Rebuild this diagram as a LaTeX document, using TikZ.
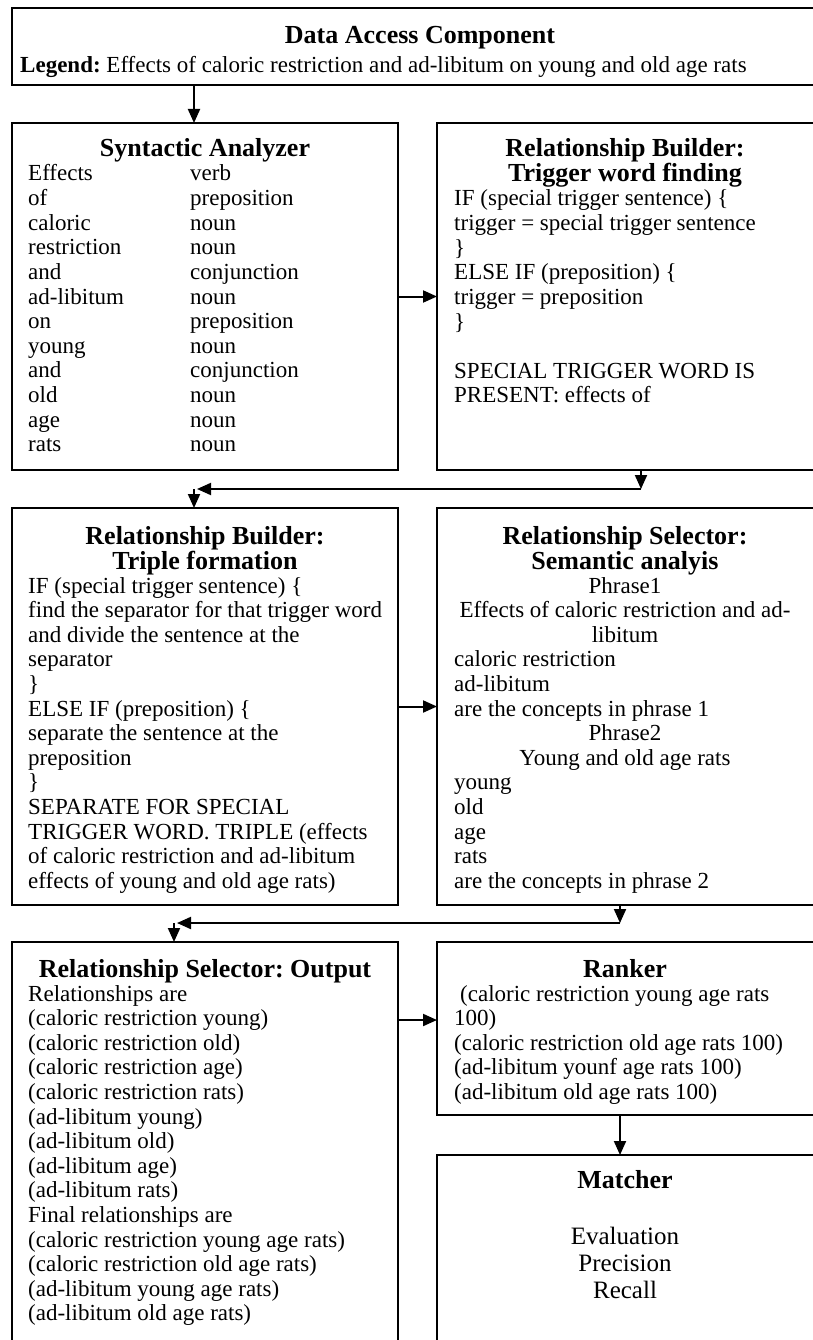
\documentclass[tikz,border=0pt]{standalone}
\usepackage{fontspec}
\setmainfont{Liberation Serif}
\usetikzlibrary{arrows.meta}
\frenchspacing
\begin{document}
\begin{tikzpicture}[x=1pt,y=-1pt,
  box/.style={draw=black, line width=2pt, anchor=north west, inner sep=0pt, outer sep=0pt},
  ttl/.style={font=\fontsize{26}{28}\selectfont\bfseries, anchor=base, inner sep=0pt},
  txt/.style={font=\fontsize{23}{24.6}\selectfont, anchor=base west, inner sep=0pt},
  ctr/.style={font=\fontsize{23}{24.6}\selectfont, anchor=base, inner sep=0pt},
  big/.style={font=\fontsize{25}{27}\selectfont, anchor=base, inner sep=0pt},
  arr/.style={line width=2pt, -{Triangle[length=14pt,width=12pt]}},
]
\useasboundingbox (0,0) rectangle (812,1340);

% ---------- boxes ----------
\node[box, minimum width=802pt, minimum height=77pt]  (dac)   at (12,8)    {};
\node[box, minimum width=386pt, minimum height=347pt] (syn)   at (12,123)  {};
\node[box, minimum width=377pt, minimum height=347pt] (trig)  at (437,123) {};
\node[box, minimum width=386pt, minimum height=397pt] (trip)  at (12,508)  {};
\node[box, minimum width=377pt, minimum height=397pt] (sem)   at (437,508) {};
\node[box, minimum width=386pt, minimum height=402pt] (out)   at (12,942)  {};
\node[box, minimum width=377pt, minimum height=173pt] (rank)  at (437,942) {};
\node[box, minimum width=377pt, minimum height=189pt] (match) at (437,1155) {};

% ---------- connectors ----------
\coordinate (xa) at (194,0);
\coordinate (xd) at (620,0);
\coordinate (j1) at (641,489);
\coordinate (j2) at (194,489);
\coordinate (j3) at (620,923);
\coordinate (j4) at (174,923);
\coordinate (y3) at (0,1020);

\draw[arr] (dac.south -| xa) -- (syn.north -| xa);
\draw[arr] (syn.east) -- (trig.west);
\draw[arr] (trig.south -| j1) -- (j1);
\draw[arr] (j1) -- ([xshift=3pt]j2);
\draw[arr] (j2) -- (trip.north -| j2);
\draw[arr] (trip.east) -- (sem.west);
\draw[arr] (sem.south -| j3) -- (j3);
\draw[arr] (j3) -- ([xshift=3pt]j4);
\draw[arr] (j4) -- (out.north -| j4);
\draw[arr] (out.east |- y3) -- (rank.west |- y3);
\draw[arr] (rank.south -| xd) -- (match.north -| xd);

% ---------- data access component ----------
\node[ttl] (dac-t) at (420,44) {Data Access Component};
\node[txt] (dac-l) at (20,73) {\textbf{Legend:} Effects of caloric restriction and ad-libitum on young and old age rats};

% ---------- syntactic analyzer ----------
\node[ttl] (syn-t) at (205,157) {Syntactic Analyzer};
\foreach \w/\p [count=\i from 0] in {Effects/verb, of/preposition, caloric/noun,
    restriction/noun, and/conjunction, ad-libitum/noun, on/preposition, young/noun,
    and/conjunction, old/noun, age/noun, rats/noun}
{
  \node[txt] (syn-w\i) at (28,{181+24.6*\i}) {\w};
  \node[txt] (syn-p\i) at (190,{181+24.6*\i}) {\p};
}

% ---------- trigger word finding ----------
\node[ttl] (trig-t1) at (625,157) {Relationship Builder:};
\node[ttl] (trig-t2) at (625,182) {Trigger word finding};
\foreach \l [count=\i from 0] in {{IF (special trigger sentence) \{},
    {trigger = special trigger sentence}, \}, {ELSE IF (preposition) \{},
    {trigger = preposition}, \}}
  \node[txt] (trig-a\i) at (454,{206+24.6*\i}) {\l};
\node[txt] (trig-b1) at (454,{206+24.6*7}) {SPECIAL TRIGGER WORD IS};
\node[txt] (trig-b2) at (454,{206+24.6*8}) {PRESENT: effects of};

% ---------- triple formation ----------
\node[ttl] (trip-t1) at (205,544) {Relationship Builder:};
\node[ttl] (trip-t2) at (205,569) {Triple formation};
\foreach \l [count=\i from 0] in {{IF (special trigger sentence) \{},
    {find the separator for that trigger word},
    {and divide the sentence at the},
    separator, \}, {ELSE IF (preposition) \{},
    {separate the sentence at the}, preposition, \},
    {SEPARATE FOR SPECIAL}, {TRIGGER WORD. TRIPLE (effects},
    {of caloric restriction and ad-libitum},
    {effects of young and old age rats)}}
  \node[txt] (trip-l\i) at (28,{593+24.6*\i}) {\l};

% ---------- semantic analysis ----------
\node[ttl] (sem-t1) at (625,544) {Relationship Selector:};
\node[ttl] (sem-t2) at (625,569) {Semantic analyis};
\node[ctr] (sem-c0)  at (625,{593+24.6*0})  {Phrase1};
\node[ctr] (sem-c1)  at (625,{593+24.6*1})  {Effects of caloric restriction and ad-};
\node[ctr] (sem-c2)  at (625,{593+24.6*2})  {libitum};
\node[txt] (sem-l3)  at (454,{593+24.6*3})  {caloric restriction};
\node[txt] (sem-l4)  at (454,{593+24.6*4})  {ad-libitum};
\node[txt] (sem-l5)  at (454,{593+24.6*5})  {are the concepts in phrase 1};
\node[ctr] (sem-c6)  at (625,{593+24.6*6})  {Phrase2};
\node[ctr] (sem-c7)  at (625,{593+24.6*7})  {Young and old age rats};
\node[txt] (sem-l8)  at (454,{593+24.6*8})  {young};
\node[txt] (sem-l9)  at (454,{593+24.6*9})  {old};
\node[txt] (sem-l10) at (454,{593+24.6*10}) {age};
\node[txt] (sem-l11) at (454,{593+24.6*11}) {rats};
\node[txt] (sem-l12) at (454,{593+24.6*12}) {are the concepts in phrase 2};

% ---------- selector output ----------
\node[ttl] (out-t) at (205,977) {Relationship Selector: Output};
\foreach \l [count=\i from 0] in {Relationships are,
    (caloric restriction young), (caloric restriction old),
    (caloric restriction age), (caloric restriction rats),
    (ad-libitum young), (ad-libitum old), (ad-libitum age), (ad-libitum rats),
    Final relationships are,
    (caloric restriction young age rats), (caloric restriction old age rats),
    (ad-libitum young age rats), (ad-libitum old age rats)}
  \node[txt] (out-l\i) at (28,{1001+24.6*\i}) {\l};

% ---------- ranker ----------
\node[ttl] (rank-t) at (625,977) {Ranker};
\node[txt] (rank-l0) at (460,{1001+24.6*0}) {(caloric restriction young age rats};
\node[txt] (rank-l1) at (454,{1001+24.6*1}) {100)};
\node[txt] (rank-l2) at (454,{1001+24.6*2}) {(caloric restriction old age rats 100)};
\node[txt] (rank-l3) at (454,{1001+24.6*3}) {(ad-libitum younf age rats 100)};
\node[txt] (rank-l4) at (454,{1001+24.6*4}) {(ad-libitum old age rats 100)};

% ---------- matcher ----------
\node[ttl] (match-t) at (625,1188) {Matcher};
\node[big] (match-l0) at (625,1244) {Evaluation};
\node[big] (match-l1) at (625,1271) {Precision};
\node[big] (match-l2) at (625,1298) {Recall};
\end{tikzpicture}
\end{document}
